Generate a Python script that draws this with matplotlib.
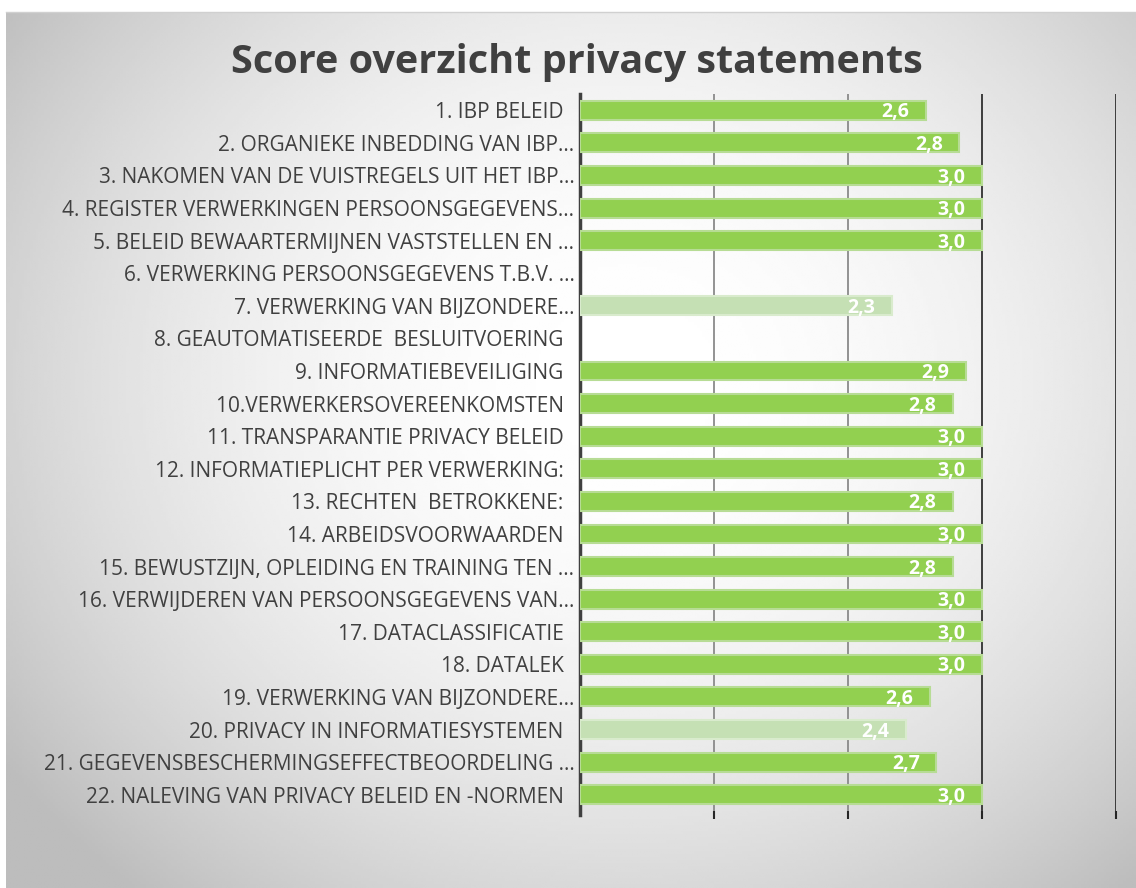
import numpy as np
import matplotlib.pyplot as plt

# categorieen (van boven naar beneden)
labels = [
    "1. IBP BELEID  ",
    "2. ORGANIEKE INBEDDING VAN IBP...",
    "3. NAKOMEN VAN DE VUISTREGELS UIT HET IBP...",
    "4. REGISTER VERWERKINGEN PERSOONSGEGEVENS...",
    "5. BELEID BEWAARTERMIJNEN VASTSTELLEN EN ...",
    "6. VERWERKING PERSOONSGEGEVENS T.B.V. ...",
    "7. VERWERKING VAN BIJZONDERE...",
    "8. GEAUTOMATISEERDE  BESLUITVOERING  ",
    "9. INFORMATIEBEVEILIGING  ",
    "10.VERWERKERSOVEREENKOMSTEN  ",
    "11. TRANSPARANTIE PRIVACY BELEID  ",
    "12. INFORMATIEPLICHT PER VERWERKING:  ",
    "13. RECHTEN  BETROKKENE:  ",
    "14. ARBEIDSVOORWAARDEN  ",
    "15. BEWUSTZIJN, OPLEIDING EN TRAINING TEN ...",
    "16. VERWIJDEREN VAN PERSOONSGEGEVENS VAN...",
    "17. DATACLASSIFICATIE  ",
    "18. DATALEK  ",
    "19. VERWERKING VAN BIJZONDERE...",
    "20. PRIVACY IN INFORMATIESYSTEMEN  ",
    "21. GEGEVENSBESCHERMINGSEFFECTBEOORDELING ...",
    "22. NALEVING VAN PRIVACY BELEID EN -NORMEN  ",
]
# scores (nan = geen score)
scores = [2.58, 2.83, 3.0, 3.0, 3.0, np.nan, 2.33, np.nan, 2.88, 2.78, 3.0,
          3.0, 2.78, 3.0, 2.78, 3.0, 3.0, 3.0, 2.61, 2.43, 2.66, 3.0]
# lichte balken (onvolledig beoordeeld)
licht = [False] * 22
licht[6] = True
licht[19] = True
grid_ticks = [1, 2, 3, 4]

W, H = 1136, 888
fig = plt.figure(figsize=(W / 100, H / 100), dpi=100)
fig.patch.set_facecolor("white")

# achtergrond met radiale gradient
bg = fig.add_axes([6 / W, 0, 1 - 6 / W, 1 - 12 / H])
yy, xx = np.mgrid[0:1:300j, 0:1:400j]
r2 = ((xx - 0.55) / 0.75) ** 2 + ((yy - 0.42) / 0.85) ** 2
img = np.clip(1.0 - 0.32 * r2, 0.74, 1.0)
bg.imshow(img, cmap="gray", vmin=0, vmax=1, aspect="auto",
          extent=[0, 1, 1, 0], interpolation="bilinear")
bg.axis("off")
fig.add_artist(plt.Line2D([6 / W, 1], [1 - 12 / H, 1 - 12 / H],
                          color="#d0d0d0", lw=1))

font = ["Open Sans", "DejaVu Sans"]

fig.text(577 / W, 1 - 63 / H, "Score overzicht privacy statements",
         ha="center", va="center", fontsize=28.5, fontweight="bold",
         color="#404040", family=font)

ax = fig.add_axes([580 / W, 1 - 811 / H, 536 / W, (811 - 94) / H])
ax.patch.set_alpha(0)
y = np.arange(len(labels))
kleuren = ["#c5e0b4" if l else "#92d050" for l in licht]
randen = ["#d9ebcd" if l else "#b7dc95" for l in licht]
bars = ax.barh(y, np.nan_to_num(scores), height=0.58, color=kleuren,
               edgecolor=randen, linewidth=1.5, zorder=3)
for b, s in zip(bars, scores):
    if np.isnan(s):
        b.set_visible(False)
        continue
    ax.annotate(f"{s:.1f}".replace(".", ","), (s, b.get_y() + b.get_height() / 2),
                xytext=(-12, -1.5), textcoords="offset points", ha="right",
                va="center", color="white", fontsize=14, fontweight="bold",
                family=font, zorder=4)

ax.set_xlim(0, 4)
ax.set_ylim(len(labels) - 0.5, -0.5)
ax.set_yticks(y)
ax.set_yticklabels(labels, family=font, fontsize=15, color="#404040")
ax.tick_params(axis="y", length=0, pad=4)
ax.set_xticks(grid_ticks)
ax.set_xticklabels([])
ax.tick_params(axis="x", direction="out", length=6, width=1.5, color="#262626")
ax.grid(axis="x", color="#8a8a8a", lw=1.3, zorder=0)
for g, t in zip(ax.xaxis.get_gridlines(), grid_ticks):
    if t >= 3:
        g.set_color("#303030")
for s in ["top", "right", "bottom"]:
    ax.spines[s].set_visible(False)
ax.spines["left"].set_color("#404040")
ax.spines["left"].set_linewidth(2.5)
ax.spines["left"].set_bounds(len(labels) - 0.5 + 0.12, -0.5)
ax.set_axisbelow(True)

fig.savefig("out.png", dpi=100)
